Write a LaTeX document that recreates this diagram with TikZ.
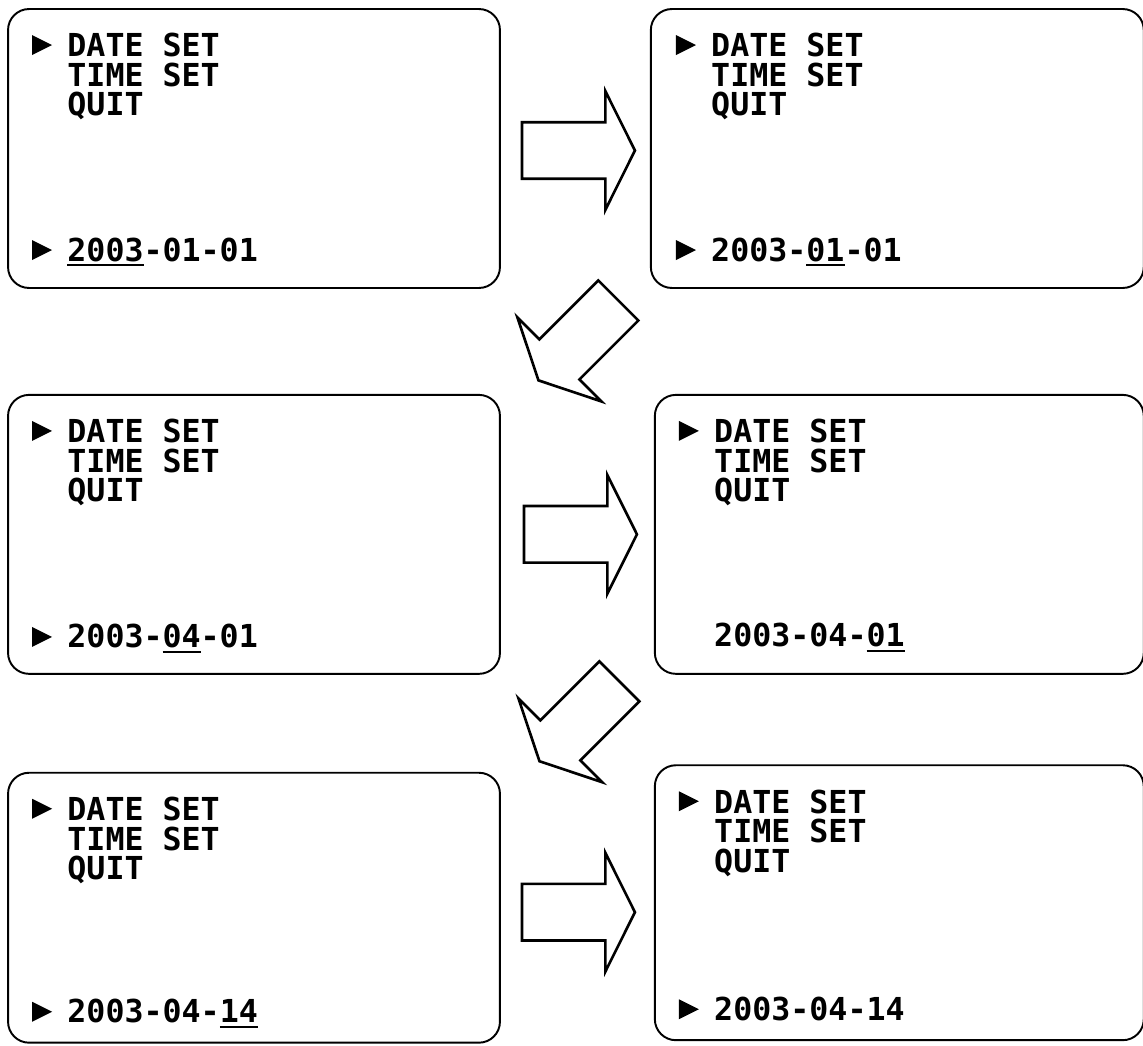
\documentclass[tikz,border=0pt]{standalone}
\usepackage{fontspec}
\setmonofont{DejaVu Sans Mono}
\usetikzlibrary{shapes.arrows,positioning,calc}
\newcommand{\sel}[1]{\setbox0\hbox{#1}\rlap{\rule[-2.9pt]{\wd0}{1.1pt}}\box0}
\tikzset{
  screen/.style={draw, line width=1.1pt, rounded corners=0.42cm, minimum width=9.84cm, minimum height=5.58cm, inner sep=0pt},
  menu/.style={font=\ttfamily\bfseries\fontsize{18}{16.8}\selectfont, align=left, inner sep=0pt, anchor=north west},
  dateline/.style={font=\ttfamily\bfseries\fontsize{18}{16.8}\selectfont, inner sep=0pt, anchor=base west},
  bigarr/.style={draw, line width=1.5pt, single arrow, single arrow tip angle=127, single arrow head extend=0.62cm, minimum height=2.26cm, inner xsep=0pt, inner ysep=0.54cm},
  cursor/.pic={\fill (0,-10) -- (20,0) -- (0,10) -- cycle;}
}
\begin{document}
\begin{tikzpicture}[x=0.02cm, y=-0.02cm, node distance=2.1cm and 2.98cm]
  \useasboundingbox (0,0) rectangle (1143,1045);
  % screens
  \node[screen] (s1) at (254,148.5) {};
  \node[screen, minimum width=9.86cm, right=of s1] (s2) {};
  \node[screen, below=of s1] (s3) {};
  \node[screen, minimum width=9.78cm, right=3.06cm of s3] (s4) {};
  \node[screen, minimum height=5.4cm, below=1.94cm of s3] (s5) {};
  \node[screen, minimum width=9.78cm, minimum height=5.5cm, right=3.06cm of s5, yshift=0.1cm] (s6) {};
  % menu and date lines
  \node[menu] (m1) at ($(s1.north west)+(60,25)$) {DATE SET\\TIME SET\\QUIT};
  \node[dateline] (d1) at ($(s1.north west)+(60,253)$) {\sel{2003}-01-01};
  \node[menu] (m2) at ($(s2.north west)+(61,25)$) {DATE SET\\TIME SET\\QUIT};
  \node[dateline] (d2) at ($(s2.north west)+(61,253)$) {2003-\sel{01}-01};
  \node[menu] (m3) at ($(s3.north west)+(60,25)$) {DATE SET\\TIME SET\\QUIT};
  \node[dateline] (d3) at ($(s3.north west)+(60,254)$) {2003-\sel{04}-01};
  \node[menu] (m4) at ($(s4.north west)+(60,25)$) {DATE SET\\TIME SET\\QUIT};
  \node[dateline] (d4) at ($(s4.north west)+(60,253)$) {2003-04-\sel{01}};
  \node[menu] (m5) at ($(s5.north west)+(60,25)$) {DATE SET\\TIME SET\\QUIT};
  \node[dateline] (d5) at ($(s5.north west)+(60,251)$) {2003-04-\sel{14}};
  \node[menu] (m6) at ($(s6.north west)+(60,25)$) {DATE SET\\TIME SET\\QUIT};
  \node[dateline] (d6) at ($(s6.north west)+(60,256)$) {2003-04-14};
  % cursors
  \foreach \m in {m1,m2,m3,m4,m5,m6} \pic at ($(\m.north west)+(-35,12)$) {cursor};
  \foreach \d in {d1,d2,d3,d5,d6} \pic at ($(\d.base west)+(-35,-11)$) {cursor};
  % block arrows
  \node[bigarr] (a1) at ($(s1.east)!0.5!(s2.west)+(-4,2)$) {};
  \node[bigarr, rotate=225] (a2) at ($(s2.south west)!0.5!(s3.north east)+(8,-6)$) {};
  \node[bigarr] (a3) at ($(s3.east)!0.5!(s4.west)+(-4,0)$) {};
  \node[bigarr, rotate=225] (a4) at ($(s4.south west)!0.5!(s5.north east)+(7,-7)$) {};
  \node[bigarr] (a5) at ($(s5.east)!0.5!(s6.west)+(-6,7)$) {};
\end{tikzpicture}
\end{document}
